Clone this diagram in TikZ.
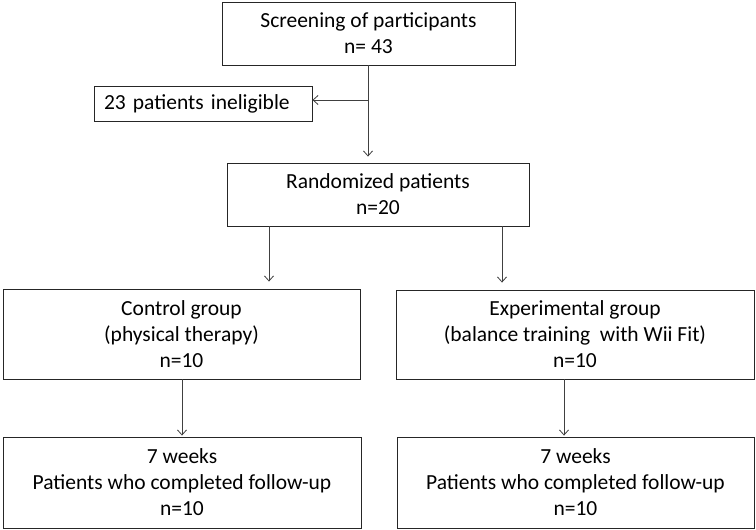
\documentclass[tikz,border=0pt]{standalone}
\usepackage{fontspec}
\setmainfont{Carlito}
\usetikzlibrary{arrows.meta}
\begin{document}
\begin{tikzpicture}[x=1pt,y=-1pt,
  box/.style={draw=black!85, line width=0.9pt, align=center, inner sep=0pt,
    font=\fontsize{21.5}{26}\selectfont},
  arr/.style={draw=black!75, line width=0.8pt, -{Straight Barb[length=5pt,width=9pt]}}]
\useasboundingbox (0,0) rectangle (756,530);
\node[box, minimum width=293pt, minimum height=63pt] (top) at (368.5,33.5) {Screening of participants\\n= 43};
\node[box, text width=198pt, inner xsep=10pt, align=left, minimum height=35pt] (inel) at (203,103.5) {23 patients ineligible};
\node[box, minimum width=302pt, minimum height=63pt] (rand) at (378,194.5) {Randomized patients\\n=20};
\node[box, minimum width=357pt, minimum height=90pt] (ctrl) at (181.5,334) {Control group\\(physical therapy)\\n=10};
\node[box, minimum width=358pt, minimum height=89pt] (exp) at (575,334.5) {Experimental group\\(balance training\ \ with Wii Fit)\\n=10};
\node[box, minimum width=358pt, minimum height=91pt] (fl) at (182,482.5) {7 weeks\\Patients who completed follow-up\\n=10};
\node[box, minimum width=357pt, minimum height=91pt] (fr) at (575.5,482.5) {7 weeks\\Patients who completed follow-up\\n=10};
\coordinate (j) at (368,100);
\coordinate (c1) at (269,0);
\coordinate (c2) at (502,0);
\coordinate (c3) at (182,0);
\coordinate (c4) at (564,0);
\draw[arr, shorten >=6pt] (top.south -| j) -- (rand.north -| j);
\draw[arr] (j) -- (inel.east |- j);
\draw[arr, shorten >=7pt] (rand.south -| c1) -- (ctrl.north -| c1);
\draw[arr, shorten >=7pt] (rand.south -| c2) -- (exp.north -| c2);
\draw[arr, shorten >=1pt] (ctrl.south -| c3) -- (fl.north -| c3);
\draw[arr, shorten >=1pt] (exp.south -| c4) -- (fr.north -| c4);
\end{tikzpicture}
\end{document}
